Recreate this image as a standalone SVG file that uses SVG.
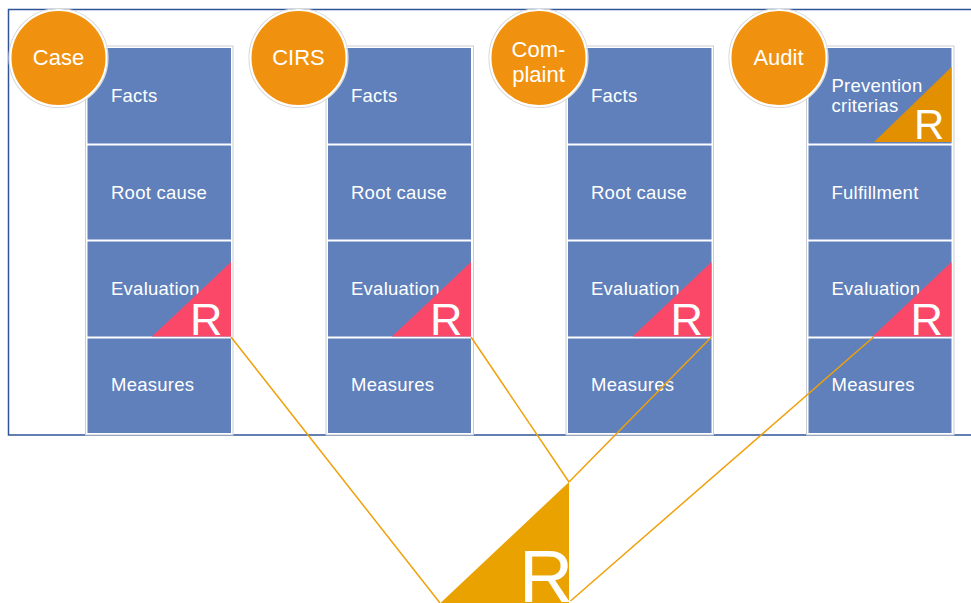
<svg xmlns="http://www.w3.org/2000/svg" width="971" height="603" viewBox="0 0 971 603">
<style>
.cell{fill:#5F80BB;}
.col{fill:#ffffff;stroke:#C9CDD4;stroke-width:1;}
.lbl{font-family:"Liberation Sans",Arial,sans-serif;font-size:18.5px;letter-spacing:0.25px;fill:#ffffff;}
.cir{fill:#F0920F;stroke:#ffffff;stroke-width:2;}
.cirsh{fill:none;stroke:#D9D9D9;stroke-width:1.2;}
.ctxt{font-family:"Liberation Sans",Arial,sans-serif;font-size:22px;fill:#ffffff;text-anchor:middle;}
.red{fill:#FB4868;}
.rtxt{font-family:"Liberation Sans",Arial,sans-serif;font-size:45px;fill:#ffffff;}
.conn{stroke:#F0A00A;stroke-width:1.5;fill:none;}
</style>
<rect x="0" y="0" width="971" height="603" fill="#ffffff"/>
<rect id="frame" x="8.5" y="9.5" width="980" height="425.5" fill="none" stroke="#2F5597" stroke-width="1.5"/>

<g id="col-case">
<rect class="col" x="85.5" y="46" width="147.5" height="389"/>
<rect class="cell" x="87.5" y="48" width="143.5" height="95.5"/>
<rect class="cell" x="87.5" y="145.5" width="143.5" height="94"/>
<rect class="cell" x="87.5" y="241.5" width="143.5" height="95"/>
<rect class="cell" x="87.5" y="338.5" width="143.5" height="94.5"/>
<text class="lbl" x="111" y="102">Facts</text>
<text class="lbl" x="111" y="199">Root cause</text>
<text class="lbl" x="111" y="295">Evaluation</text>
<polygon class="red" points="231,262 231,336.5 152,336.5"/>
<text class="rtxt" x="190" y="335">R</text>
<text class="lbl" x="111" y="391">Measures</text>
</g>
<g id="node-case">
<circle class="cirsh" cx="58.5" cy="58" r="49.5"/>
<circle class="cir" cx="58.5" cy="58" r="48"/>
<text class="ctxt" x="58.5" y="65">Case</text>
</g>

<g id="col-cirs">
<rect class="col" x="326" y="46" width="147.5" height="389"/>
<rect class="cell" x="328" y="48" width="143" height="95.5"/>
<rect class="cell" x="328" y="145.5" width="143" height="94"/>
<rect class="cell" x="328" y="241.5" width="143" height="95"/>
<rect class="cell" x="328" y="338.5" width="143" height="94.5"/>
<text class="lbl" x="351" y="102">Facts</text>
<text class="lbl" x="351" y="199">Root cause</text>
<text class="lbl" x="351" y="295">Evaluation</text>
<polygon class="red" points="471,262 471,336.5 392,336.5"/>
<text class="rtxt" x="430" y="335">R</text>
<text class="lbl" x="351" y="391">Measures</text>
</g>
<g id="node-cirs">
<circle class="cirsh" cx="298.5" cy="58" r="49.5"/>
<circle class="cir" cx="298.5" cy="58" r="48"/>
<text class="ctxt" x="298.5" y="65">CIRS</text>
</g>

<g id="col-complaint">
<rect class="col" x="566" y="46" width="147.5" height="389"/>
<rect class="cell" x="568" y="48" width="143.5" height="95.5"/>
<rect class="cell" x="568" y="145.5" width="143.5" height="94"/>
<rect class="cell" x="568" y="241.5" width="143.5" height="95"/>
<rect class="cell" x="568" y="338.5" width="143.5" height="94.5"/>
<text class="lbl" x="591" y="102">Facts</text>
<text class="lbl" x="591" y="199">Root cause</text>
<text class="lbl" x="591" y="295">Evaluation</text>
<polygon class="red" points="711.5,262 711.5,336.5 632.5,336.5"/>
<text class="rtxt" x="670.5" y="335">R</text>
<text class="lbl" x="591" y="391">Measures</text>
</g>
<g id="node-complaint">
<circle class="cirsh" cx="538.5" cy="58" r="49.5"/>
<circle class="cir" cx="538.5" cy="58" r="48"/>
<text class="ctxt" x="538.5" y="57">Com-</text>
<text class="ctxt" x="538.5" y="82">plaint</text>
</g>

<g id="col-audit">
<rect class="col" x="806.5" y="46" width="147.5" height="389"/>
<rect class="cell" x="808.5" y="48" width="143" height="95.5"/>
<rect class="cell" x="808.5" y="145.5" width="143" height="94"/>
<rect class="cell" x="808.5" y="241.5" width="143" height="95"/>
<rect class="cell" x="808.5" y="338.5" width="143" height="94.5"/>
<text class="lbl" x="831.5" y="92">Prevention</text>
<text class="lbl" x="831.5" y="112">criterias</text>
<polygon fill="#E28F00" points="951.5,67 951.5,142 874,142"/>
<text class="rtxt" x="914" y="139" style="font-size:42px">R</text>
<text class="lbl" x="831.5" y="199">Fulfillment</text>
<text class="lbl" x="831.5" y="295">Evaluation</text>
<polygon class="red" points="951.5,262 951.5,336.5 872.5,336.5"/>
<text class="rtxt" x="910.5" y="335">R</text>
<text class="lbl" x="831.5" y="391">Measures</text>
</g>
<g id="node-audit">
<circle class="cirsh" cx="778.5" cy="58" r="49.5"/>
<circle class="cir" cx="778.5" cy="58" r="48"/>
<text class="ctxt" x="778.5" y="65">Audit</text>
</g>

<g id="node-result">
<polygon fill="#E9A200" points="569,482 569,610 433,610"/>
<text x="519" y="602" font-family="'Liberation Sans',Arial,sans-serif" font-size="75" fill="#ffffff">R</text>
</g>

<g id="connectors">
<line class="conn" x1="231" y1="337" x2="440" y2="603"/>
<line class="conn" x1="471" y1="337" x2="569" y2="482"/>
<line class="conn" x1="711.5" y1="337" x2="569" y2="482"/>
<line class="conn" x1="873.5" y1="337" x2="570.5" y2="601"/>
</g>
</svg>
